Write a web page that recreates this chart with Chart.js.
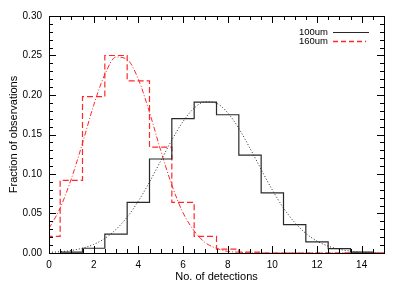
<!DOCTYPE html>
<html>
<head>
<meta charset="utf-8">
<script src="https://cdn.jsdelivr.net/npm/chart.js@4"></script>
<style>
  html, body { margin: 0; padding: 0; background: #fff; }
  #wrap { width: 399px; height: 285px; }
</style>
</head>
<body>
<div id="wrap"><canvas id="myChart" width="399" height="285"></canvas></div>
<script>
// Histogram bins (centres) and fractions
const bins100 = [1, 2, 3, 4, 5, 6, 7, 8, 9, 10, 11, 12, 13, 14];
const hist100 = [0.001, 0.006, 0.024, 0.064, 0.119, 0.170, 0.191, 0.175, 0.124, 0.076, 0.036, 0.014, 0.0055, 0.001];

const bins160 = [0, 1, 2, 3, 4, 5, 6, 7, 8, 9, 10, 11, 12, 13, 14, 15];
const hist160 = [0.021, 0.092, 0.198, 0.250, 0.218, 0.134, 0.064, 0.021, 0.005, 0.001, 0, 0, 0, 0, 0, 0];

// Fitted curves, every 0.5
const fitX = [0, 0.5, 1, 1.5, 2, 2.5, 3, 3.5, 4, 4.5, 5, 5.5, 6, 6.5, 7, 7.5, 8, 8.5, 9, 9.5, 10, 10.5, 11, 11.5, 12, 12.5, 13, 13.5, 14, 14.5, 15];
const fit100 = [0.0008, 0.0016, 0.0032, 0.0061, 0.0109, 0.0185, 0.0298, 0.0454, 0.0657, 0.0898, 0.1165, 0.143, 0.1664, 0.1834, 0.1915, 0.1895, 0.1776, 0.1576, 0.1326, 0.1057, 0.0798, 0.057, 0.0387, 0.0248, 0.0151, 0.0087, 0.0047, 0.0024, 0.0012, 0.0005, 0.0002];
const fit160 = [0.031, 0.057, 0.094, 0.139, 0.187, 0.226, 0.248, 0.245, 0.220, 0.178, 0.130, 0.086, 0.051, 0.028, 0.013, 0.006, 0.002, 0.001, 0, 0, 0, 0, 0, 0, 0, 0, 0, 0, 0, 0, 0];

const xTicks = [0, 2, 4, 6, 8, 10, 12, 14];
const yTicks = [0.00, 0.05, 0.10, 0.15, 0.20, 0.25, 0.30];

const legendNames = ["100um", "160um"];

const RED = "#ff2828";
const BLACK = "#282828";
const FONT = "'Liberation Sans', Arial, sans-serif";

// histogram as steps: left edges + closing right edge
function steps(centres, vals) {
  const pts = centres.map((c, i) => ({ x: c - 0.5, y: vals[i] }));
  pts.push({ x: centres[centres.length - 1] + 0.5, y: vals[vals.length - 1] });
  return pts;
}
function curve(xs, ys) {
  return xs.map((x, i) => ({ x: x, y: ys[i] }));
}

// IDL-style frame with inward ticks on all four sides
const frame = {
  id: "frame",
  afterDraw(chart) {
    const { ctx, chartArea: a, scales } = chart;
    const xs = scales.x, ys = scales.y;
    ctx.save();
    ctx.setLineDash([]);
    ctx.strokeStyle = "#000";
    ctx.lineWidth = 1;
    ctx.strokeRect(Math.round(a.left) + 0.5, Math.round(a.top) + 0.5,
      Math.round(a.right - a.left), Math.round(a.bottom - a.top));
    ctx.beginPath();
    for (let v = 0; v <= 15.001; v += 0.5) {
      const px = Math.round(xs.getPixelForValue(v)) + 0.5;
      const len = (Math.abs(v % 2) < 1e-6) ? 7 : 4;
      ctx.moveTo(px, a.bottom); ctx.lineTo(px, a.bottom - len);
      ctx.moveTo(px, a.top); ctx.lineTo(px, a.top + len);
    }
    for (let k = 0; k <= 30; k++) {
      const py = Math.round(ys.getPixelForValue(k / 100)) + 0.5;
      const len = (k % 5 === 0) ? 7 : 4;
      ctx.moveTo(a.left, py); ctx.lineTo(a.left + len, py);
      ctx.moveTo(a.right, py); ctx.lineTo(a.right - len, py);
    }
    ctx.stroke();
    ctx.restore();
  }
};

// legend in the top right corner
const keyBox = {
  id: "keyBox",
  afterDraw(chart) {
    const ctx = chart.ctx;
    const rows = [
      { name: legendNames[0], color: BLACK, dash: [], y: 32.5, x2: 369, w: 1 },
      { name: legendNames[1], color: RED, dash: [5, 3], y: 41.5, x2: 366, w: 1.3 }
    ];
    rows.forEach(r => {
      ctx.save();
      ctx.font = "9.5px " + FONT;
      ctx.fillStyle = "#000";
      ctx.textAlign = "right";
      ctx.textBaseline = "middle";
      ctx.fillText(r.name, 328, r.y);
      ctx.strokeStyle = r.color;
      ctx.lineWidth = r.w;
      ctx.setLineDash(r.dash);
      ctx.beginPath();
      ctx.moveTo(333, r.y);
      ctx.lineTo(r.x2, r.y);
      ctx.stroke();
      ctx.restore();
    });
  }
};

new Chart("myChart", {
  type: "line",
  data: {
    datasets: [
      {
        label: legendNames[0],
        data: steps(bins100, hist100),
        stepped: "before",
        borderColor: BLACK,
        borderWidth: 1.2,
        pointRadius: 0,
        fill: false
      },
      {
        label: legendNames[1],
        data: steps(bins160, hist160),
        stepped: "before",
        borderColor: RED,
        borderWidth: 1.2,
        borderDash: [6, 3],
        pointRadius: 0,
        fill: false
      },
      {
        label: "fit 100",
        data: curve(fitX, fit100),
        borderColor: BLACK,
        borderWidth: 1,
        borderDash: [1, 2],
        cubicInterpolationMode: "monotone",
        pointRadius: 0,
        fill: false
      },
      {
        label: "fit 160",
        data: curve(fitX, fit160),
        borderColor: RED,
        borderWidth: 1,
        borderDash: [5, 2, 1, 2],
        cubicInterpolationMode: "monotone",
        pointRadius: 0,
        fill: false
      }
    ]
  },
  options: {
    responsive: false,
    animation: false,
    layout: { padding: { left: 0, top: 16, right: 15, bottom: 0 } },
    plugins: { legend: { display: false }, tooltip: { enabled: false } },
    scales: {
      x: {
        type: "linear",
        min: 0,
        max: 15,
        afterFit(s) { s.height = 32; },
        afterBuildTicks(s) { s.ticks = xTicks.map(v => ({ value: v })); },
        grid: { display: false, drawTicks: false },
        border: { display: false },
        ticks: {
          padding: 6,
          color: "#000",
          maxRotation: 0,
          autoSkip: false,
          font: { family: FONT, size: 10 },
          callback: v => String(v)
        },
        title: {
          display: true,
          text: "No. of detections",
          color: "#000",
          padding: { top: 0, bottom: 1.5 },
          font: { family: FONT, size: 11 }
        }
      },
      y: {
        type: "linear",
        min: 0,
        max: 0.30,
        afterFit(s) { s.width = 49; },
        afterBuildTicks(s) { s.ticks = yTicks.map(v => ({ value: v })); },
        grid: { display: false, drawTicks: false },
        border: { display: false },
        ticks: {
          padding: 7,
          color: "#000",
          autoSkip: false,
          font: { family: FONT, size: 10 },
          callback: v => Number(v).toFixed(2)
        },
        title: {
          display: true,
          text: "Fraction of observations",
          color: "#000",
          padding: { top: 7, bottom: 0 },
          font: { family: FONT, size: 11 }
        }
      }
    }
  },
  plugins: [frame, keyBox]
});
</script>
</body>
</html>
